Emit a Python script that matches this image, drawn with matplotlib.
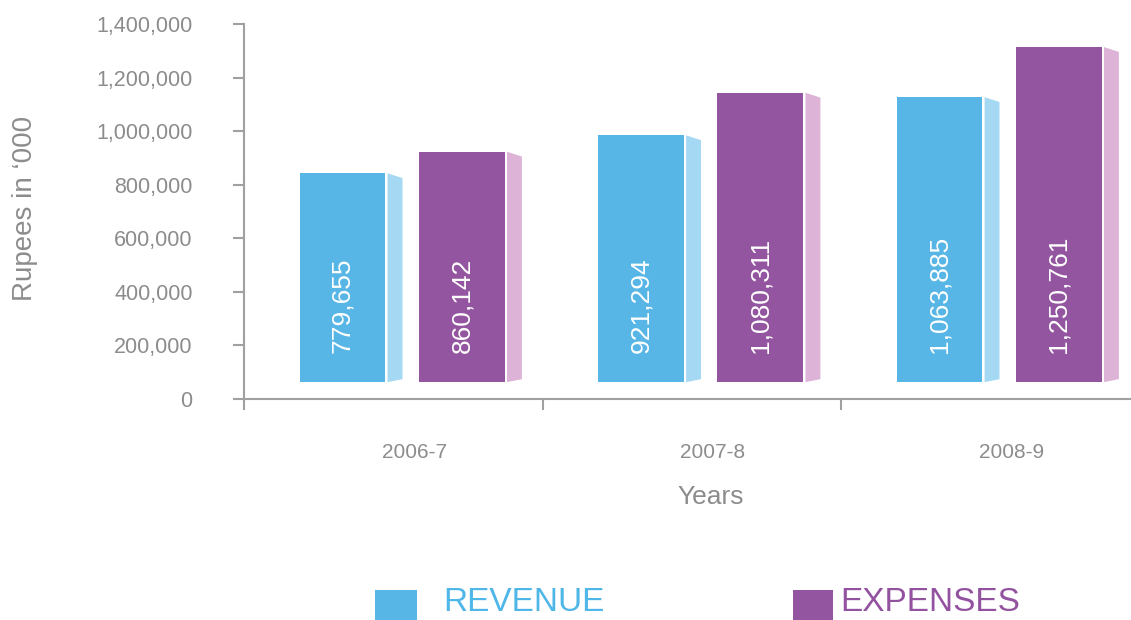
import numpy as np
import matplotlib
matplotlib.use("Agg")
import matplotlib.pyplot as plt
from matplotlib.patches import Rectangle, Polygon
from matplotlib.ticker import FuncFormatter

plt.rcParams['font.family'] = ['Liberation Sans', 'DejaVu Sans']

years = ['2006-7', '2007-8', '2008-9']
revenue = [779655, 921294, 1063885]
expenses = [860142, 1080311, 1250761]

BLUE = '#58b6e6'
BLUE_SIDE = '#a5d8f3'
PURPLE = '#93559f'
PURPLE_SIDE = '#ddb4d7'
GRAY = '#8c8c8c'
AXIS = '#a0a0a0'

base = 63000      # bars float a little above zero
width = 0.288
side_w = 0.05
side_gap = 0.007
top_drop = 18000
bot_rise = 11000

fig = plt.figure(figsize=(11.31, 6.2), dpi=100)
ax = fig.add_axes([244 / 1131, 1 - 399 / 620, 887 / 1131, 375 / 620])

x = np.arange(len(years))


def drawBars(offset, values, color, sideColor):
    bars = ax.bar(x + offset, values, width=width, bottom=base, color=color, zorder=3)
    for b, v in zip(bars, values):
        x0 = b.get_x() + b.get_width() + side_gap
        x1 = x0 + side_w
        top = base + v
        poly = Polygon([(x0, base), (x1, base + bot_rise), (x1, top - top_drop), (x0, top)],
                       closed=True, facecolor=sideColor, edgecolor='none', zorder=3)
        ax.add_patch(poly)
        ax.text(b.get_x() + b.get_width() / 2, base + 108000, f'{v:,}', rotation=90,
                ha='center', va='bottom', color='white', fontsize=19, zorder=4)


drawBars(-0.17, revenue, BLUE, BLUE_SIDE)
drawBars(0.23, expenses, PURPLE, PURPLE_SIDE)

ax.set_xlim(-0.5, -0.5 + 887 / 298.5)
ax.set_ylim(0, 1400000)
ax.set_yticks(np.arange(0, 1400001, 200000))
ax.yaxis.set_major_formatter(FuncFormatter(lambda v, p: f'{v:,.0f}'))

ax.set_xticks(x - 0.5)
ax.set_xticklabels([])
ax.set_xticks(x + 0.07, minor=True)
ax.set_xticklabels(years, minor=True)

ax.spines['top'].set_visible(False)
ax.spines['right'].set_visible(False)
for s in ['left', 'bottom']:
    ax.spines[s].set_color(AXIS)
    ax.spines[s].set_linewidth(1.5)

ax.tick_params(axis='y', direction='out', length=8, width=1.5, color=AXIS,
               labelcolor=GRAY, labelsize=15.5, pad=29)
ax.tick_params(axis='x', which='major', direction='out', length=8, width=1.5, color=AXIS)
ax.tick_params(axis='x', which='minor', length=0, labelcolor=GRAY, labelsize=15, pad=32)
ax.set_facecolor('none')

fig.text(25 / 1131, 1 - 208 / 620, 'Rupees in \u2018000', rotation=90, ha='center', va='center',
         color=GRAY, fontsize=20)
fig.text(711 / 1131, 1 - 497 / 620, 'Years', ha='center', va='center', color=GRAY, fontsize=19)

# legend
fig.add_artist(Rectangle((375 / 1131, 0), 42 / 1131, 30 / 620, transform=fig.transFigure,
                         facecolor=BLUE, edgecolor='none'))
fig.add_artist(Rectangle((793 / 1131, 0), 40 / 1131, 30 / 620, transform=fig.transFigure,
                         facecolor=PURPLE, edgecolor='none'))
fig.text(443 / 1131, 2 / 620, 'REVENUE', ha='left', va='bottom', color='#4fb6e8', fontsize=24)
fig.text(840 / 1131, 2 / 620, 'EXPENSES', ha='left', va='bottom', color='#9352a0', fontsize=24)

fig.savefig('out.png', dpi=100)
